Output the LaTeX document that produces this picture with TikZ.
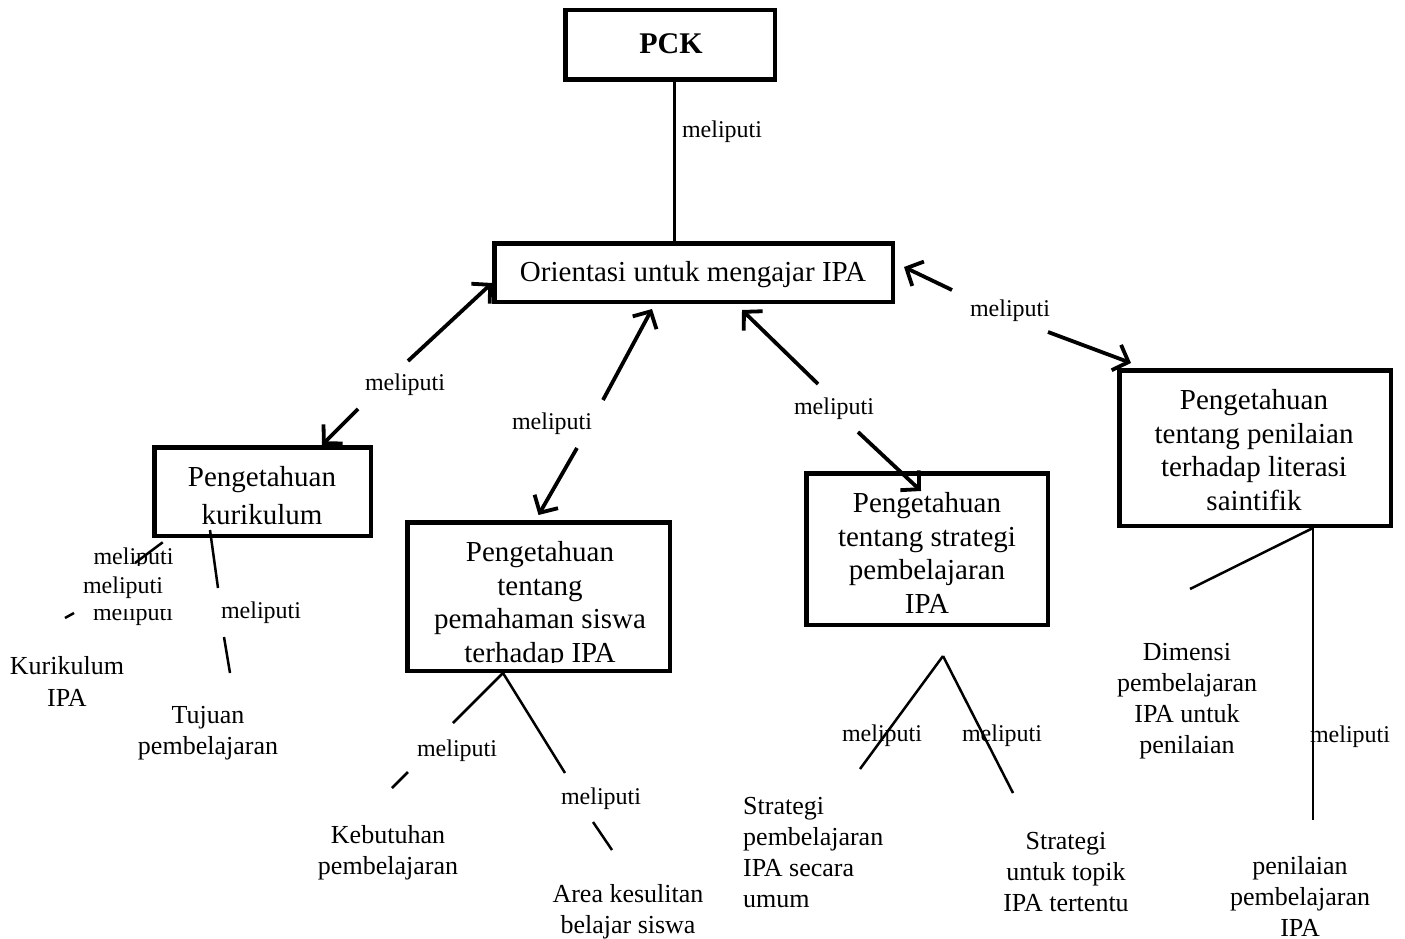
\documentclass[tikz,border=0pt]{standalone}
\usepackage{fontspec}
\setmainfont{Liberation Serif}
\usetikzlibrary{arrows.meta}
\begin{document}
\begin{tikzpicture}[x=1pt,y=-1pt,
  box/.style={draw, line width=4.5pt, inner sep=0pt},
  btxt/.style={inner sep=0pt, align=center, font=\fontsize{29}{33.5}\selectfont},
  lbl/.style={inner sep=0pt, font=\fontsize{24}{28}\selectfont},
  leaf/.style={inner sep=0pt, align=center, font=\fontsize{26}{31}\selectfont},
  conn/.style={line width=3pt},
  thinln/.style={line width=2.5pt},
  arr/.style={line width=3.8pt, -{Straight Barb[length=13pt,width=27pt]}}
]
\useasboundingbox (0,0) rectangle (1405,939);

% ---- boxes ----
\node[box, minimum width=209.5pt, minimum height=69.5pt] (pck) at (670,45) {};
\node[inner sep=0pt, font=\bfseries\fontsize{30}{36}\selectfont] (pcktxt) at (671,44) {PCK};

\node[box, minimum width=398.5pt, minimum height=58.5pt] (orient) at (693.5,272.5) {};
\node[btxt] (orienttxt) at (693,275) {Orientasi untuk mengajar IPA};

\node[box, minimum width=216.5pt, minimum height=88.5pt] (kur) at (262.5,491.5) {};
\node[btxt, font=\fontsize{29}{38}\selectfont] (kurtxt) at (262,496) {Pengetahuan\\kurikulum};

\node[box, minimum width=262.5pt, minimum height=148.5pt] (pem) at (538.5,596.5) {};
\begin{scope}
  \clip (410,525) rectangle (668,662);
  \node[btxt] (pemtxt) at (540,605) {Pengetahuan\\tentang\\pemahaman siswa\\terhadap IPA};
\end{scope}

\node[box, minimum width=241.5pt, minimum height=151.5pt] (strat) at (927,549) {};
\node[btxt] (strattxt) at (927,553) {Pengetahuan\\tentang strategi\\pembelajaran\\IPA};

\node[box, minimum width=271.5pt, minimum height=155.5pt] (right) at (1255,448) {};
\node[btxt, font=\fontsize{29}{33.7}\selectfont] (righttxt) at (1254,450) {Pengetahuan\\tentang penilaian\\terhadap literasi\\saintifik};

% ---- leaves ----
\node[leaf, font=\fontsize{26}{32}\selectfont] (kurleaf) at (67,681) {Kurikulum\\IPA};
\node[leaf] (tujuan) at (208,733) {Tujuan\\pembelajaran};
\node[leaf] (kebutuhan) at (388,852.5) {Kebutuhan\\pembelajaran};
\node[leaf] (area) at (628,912) {Area kesulitan\\belajar siswa};
\node[leaf, align=left, anchor=west, font=\fontsize{26}{31.3}\selectfont] (umum) at (743,852.5) {Strategi\\pembelajaran\\IPA secara\\umum};
\node[leaf] (topik) at (1066,872.5) {Strategi\\untuk topik\\IPA tertentu};
\node[leaf] (dimensi) at (1187,701.5) {Dimensi\\pembelajaran\\IPA untuk\\penilaian};
\node[leaf] (penilaian) at (1300,896) {penilaian\\pembelajaran\\IPA};

% ---- labels ----
\node[lbl] (l0) at (722,132) {meliputi};
\node[lbl] (l1) at (405,385) {meliputi};
\node[lbl] (l2) at (552,424) {meliputi};
\node[lbl] (l3) at (834,409) {meliputi};
\node[lbl] (l4) at (1010,311) {meliputi};
\node[lbl] (lk1) at (133.5,558.5) {meliputi};
\node[lbl] (lk3) at (133,615) {meliputi};
\fill[white] (78,566) rectangle (176,609);
\node[lbl] (lk2) at (123,588) {meliputi};
\node[lbl] (lk4) at (261,613) {meliputi};
\node[lbl] (lm1) at (457,751) {meliputi};
\node[lbl] (lm2) at (601,799) {meliputi};
\node[lbl] (ls1) at (882,736) {meliputi};
\node[lbl] (ls2) at (1002,736) {meliputi};
\node[lbl] (lr) at (1350,737) {meliputi};

% ---- connectors: PCK ----
\draw[conn] ([xshift=4pt]pck.south) -- ([xshift=4pt]pck.south |- orient.north);

% ---- arrows around the orientation box ----
\coordinate (a1u) at (408,361);
\coordinate (a1l) at (358,409);
\draw[arr] (a1u) -- ([yshift=-10.5pt]orient.west);
\draw[arr] (a1l) -- ([xshift=59.5pt]kur.north);

\coordinate (a2u) at (603,400);
\coordinate (a2l) at (577,448);
\draw[arr] (a2u) -- ([xshift=-41.5pt,yshift=-5pt]orient.south);
\draw[arr] (a2l) -- ([yshift=5pt]pem.north);

\coordinate (a3u) at (818,384);
\coordinate (a3l) at (858,432);
\draw[arr] (a3u) -- ([xshift=48.5pt,yshift=-6pt]orient.south);
\draw[arr] (a3l) -- ([xshift=-6pt,yshift=-20pt]strat.north);

\coordinate (a4u) at (952,290);
\coordinate (a4l) at (1048,332);
\draw[arr] (a4u) -- ([xshift=9pt,yshift=5.5pt]orient.east);
\draw[arr] (a4l) -- ([xshift=14pt,yshift=5pt]right.north west);

% ---- curriculum subtree ----
\coordinate (k1e) at (135,563);
\coordinate (k1a) at (65,618);
\coordinate (k1b) at (74,613);
\draw[thinln] ([xshift=10.75pt,yshift=-4.25pt]kur.south west) -- (k1e);
\draw[thinln] (k1a) -- (k1b);
\coordinate (k2e) at (218,588);
\coordinate (k2a) at (224,637);
\coordinate (k2b) at (230,673);
\draw[thinln] ([xshift=-52.5pt,yshift=-38.5pt]kur.center) -- (k2e);
\draw[thinln] (k2a) -- (k2b);

% ---- understanding subtree ----
\coordinate (m1e) at (453,723);
\coordinate (m2e) at (565,773);
\draw[thinln] ([xshift=-35.5pt]pem.south) -- (m1e);
\draw[thinln] ([xshift=-35.5pt]pem.south) -- (m2e);
\coordinate (m1a) at (392,788);
\coordinate (m1b) at (408,772);
\coordinate (m2a) at (593,822);
\coordinate (m2b) at (612,850);
\draw[thinln] (m1a) -- (m1b);
\draw[thinln] (m2a) -- (m2b);

% ---- strategy subtree ----
\coordinate (s0) at (943,656);
\coordinate (s1) at (860,769);
\coordinate (s2) at (1013,793);
\draw[thinln] (s0) -- (s1);
\draw[thinln] (s0) -- (s2);

% ---- assessment subtree ----
\coordinate (r1) at (1190,589);
\coordinate (r2) at (1313,820);
\draw[thinln] ([xshift=58pt]right.south) -- (r1);
\draw[thinln] ([xshift=58pt]right.south) -- (r2);
\end{tikzpicture}
\end{document}
